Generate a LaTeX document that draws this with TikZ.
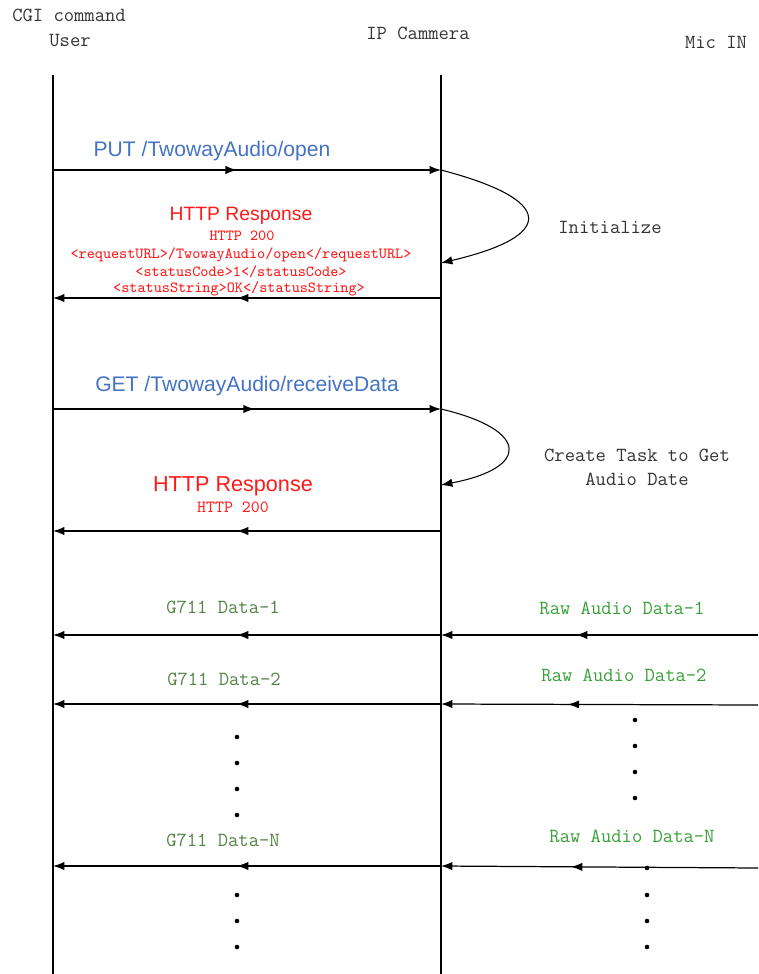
\documentclass[tikz,border=0pt]{standalone}
\usepackage{fontspec}
\setsansfont{Liberation Sans}
\usetikzlibrary{arrows.meta,decorations.markings,positioning}

\definecolor{cmdblue}{RGB}{68,114,196}
\definecolor{respred}{RGB}{255,25,25}
\definecolor{datagreen}{RGB}{84,130,70}
\definecolor{rawgreen}{RGB}{55,160,55}

\tikzset{
  lifeline/.style={line width=0.6pt},
  msg/.style={line width=0.7pt,-{Latex[length=6.5pt,width=4.8pt]}},
  midtip/.style={postaction={decorate},
    decoration={markings,mark=at position #1 with {\arrow{Latex[length=6.5pt,width=4.8pt]}}}},
  head/.style={font=\ttfamily\fontsize{11.4}{13.6}\selectfont,text=black!80},
  cmd/.style={font=\sffamily\fontsize{12}{14}\selectfont,text=cmdblue},
  resp/.style={font=\sffamily\fontsize{11}{13}\selectfont,text=respred},
  respbody/.style={font=\ttfamily\fontsize{8.8}{9.6}\selectfont,text=respred},
  g711/.style={font=\ttfamily\fontsize{11.4}{12}\selectfont,text=datagreen},
  raw/.style={font=\ttfamily\fontsize{11.4}{12}\selectfont,text=rawgreen},
}

\begin{document}
\begin{tikzpicture}[x=0.02cm,y=-0.02cm]
\useasboundingbox (0,0) rectangle (758,974);

% who talks
\node[head] (cgi) at (69,15) {CGI command};
\node[head] (user) at (70,40) {User};
\node[head] (cam) at (418,33) {IP Cammera};
\node[head] (mic) at (716,42) {Mic IN};

\coordinate (userTop) at (53,75);
\coordinate (userBot) at (53,974);
\coordinate (camTop) at (441,75);
\coordinate (camBot) at (441,974);
\draw[lifeline] (userTop) -- (userBot);
\draw[lifeline] (camTop) -- (camBot);

% open
\coordinate (putU) at (53,170);
\coordinate (putC) at (441,170);
\draw[msg,midtip=0.474] (putU) -- (putC);
\node[cmd] (put) at (212,151) {PUT /TwowayAudio/open};

\coordinate (initEnd) at (441,263);
\draw[msg,line width=0.6pt] (putC) .. controls (556,200) and (556,236) .. (initEnd);
\node[head] (init) at (610,227) {Initialize};

\coordinate (okC) at (441,298);
\coordinate (okU) at (53,298);
\draw[msg,midtip=0.526] (okC) -- (okU);
\node[resp] (okTitle) at (241,216) {HTTP Response};
\node[respbody] (okCode) at (242,236) {HTTP 200};
\node[respbody] (okUrl) at (241,255) {<requestURL>/TwowayAudio/open</requestURL>};
\node[respbody] (okStatus) at (241,272) {<statusCode>1</statusCode>};
\node[respbody] (okString) at (239,289) {<statusString>OK</statusString>};

% receive
\coordinate (getU) at (53,409);
\coordinate (getC) at (441,409);
\draw[msg,midtip=0.52] (getU) -- (getC);
\node[cmd] (get) at (247,386) {GET /TwowayAudio/receiveData};

\coordinate (taskEnd) at (441,485);
\draw[msg,line width=0.6pt] (getC) .. controls (530,430) and (530,468) .. (taskEnd);
\node[head,align=center] (task) at (637,467) {Create Task to Get\\Audio Date};

\coordinate (recvC) at (441,531);
\coordinate (recvU) at (53,531);
\draw[msg,midtip=0.526] (recvC) -- (recvU);
\node[resp,font=\sffamily\fontsize{12.3}{14}\selectfont] (recvTitle) at (233,486) {HTTP Response};
\node[respbody,font=\ttfamily\fontsize{9.7}{10}\selectfont] (recvCode) at (233,507) {HTTP 200};

% audio data
\coordinate (mic1) at (758,635);
\coordinate (cam1) at (441,635);
\coordinate (usr1) at (53,635);
\draw[msg,midtip=0.574] (mic1) -- (cam1);
\draw[msg,midtip=0.526] (cam1) -- (usr1);
\node[g711] (g1) at (223,607) {G711 Data-1};
\node[raw] (r1) at (622,608) {Raw Audio Data-1};

\coordinate (mic2) at (758,705);
\coordinate (cam2) at (441,704);
\coordinate (usr2) at (53,704);
\draw[msg,midtip=0.6] (mic2) -- (cam2);
\draw[msg,midtip=0.526] (cam2) -- (usr2);
\node[g711] (g2) at (224,679) {G711 Data-2};
\node[raw] (r2) at (624,675) {Raw Audio Data-2};

\foreach \y in {737,763,789,815} \fill (237,\y) circle (1.3pt);
\foreach \y in {720,746,772,798} \fill (635,\y) circle (1.3pt);

\coordinate (micN) at (758,868);
\coordinate (camN) at (441,866);
\coordinate (usrN) at (53,866);
\draw[msg,midtip=0.59] (micN) -- (camN);
\draw[msg,midtip=0.526] (camN) -- (usrN);
\node[g711] (gN) at (223,840) {G711 Data-N};
\node[raw] (rN) at (632,836) {Raw Audio Data-N};

\foreach \y in {895,921,947} \fill (237,\y) circle (1.3pt);
\foreach \y in {868,895,921,947} \fill (647,\y) circle (1.3pt);
\end{tikzpicture}
\end{document}
